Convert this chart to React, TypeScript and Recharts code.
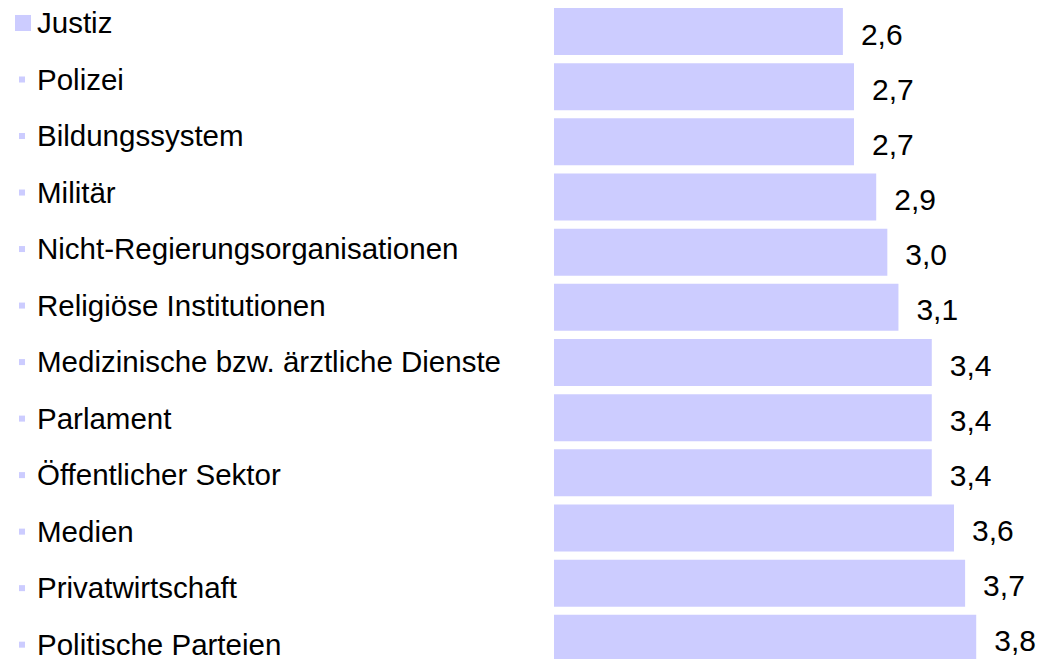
import { BarChart, Bar, XAxis, YAxis, LabelList } from "recharts";

const categories = [
  "Justiz",
  "Polizei",
  "Bildungssystem",
  "Militär",
  "Nicht-Regierungsorganisationen",
  "Religiöse Institutionen",
  "Medizinische bzw. ärztliche Dienste",
  "Parlament",
  "Öffentlicher Sektor",
  "Medien",
  "Privatwirtschaft",
  "Politische Parteien",
];

const values = [2.6, 2.7, 2.7, 2.9, 3.0, 3.1, 3.4, 3.4, 3.4, 3.6, 3.7, 3.8];

const data = categories.map((name, i) => ({ name, value: values[i] }));

const FONT = "'Liberation Sans', Arial, sans-serif";
const BAR_COLOR = "#ccccff";

// bullet + label, drawn from the left edge like a slide list.
// the list lines run a little wider than the bars, so the baseline drifts down per row
function BulletTick(props: any) {
  const { y, payload, index } = props;
  const big = index === 0;
  const base = y + 1.4 + 1.35 * index;
  return (
    <g>
      {big ? (
        <rect x={15} y={base - 18} width={16} height={16} fill={BAR_COLOR} />
      ) : (
        <rect x={19} y={base - 13} width={6} height={6} fill={BAR_COLOR} />
      )}
      <text
        x={37}
        y={base}
        textAnchor="start"
        fontFamily={FONT}
        fontSize={29.5}
        fill="#000"
      >
        {payload.value}
      </text>
    </g>
  );
}

export default function App() {
  return (
    <div
      style={{
        position: "fixed",
        top: 0,
        left: 0,
        width: 1054,
        height: 659,
        overflow: "hidden",
        background: "#fff",
      }}
    >
      <BarChart
        width={1054}
        height={670}
        data={data}
        layout="vertical"
        margin={{ top: 4, right: 0, bottom: 4, left: 0 }}
        barCategoryGap={4}
      >
        <XAxis type="number" domain={[0, 4.5]} hide />
        <YAxis
          type="category"
          dataKey="name"
          width={554}
          axisLine={false}
          tickLine={false}
          interval={0}
          tick={<BulletTick />}
        />
        <Bar dataKey="value" fill={BAR_COLOR} isAnimationActive={false}>
          <LabelList
            dataKey="value"
            position="right"
            offset={18}
            formatter={(v: any) => Number(v).toFixed(1).replace(".", ",")}
            style={{ fontFamily: FONT, fontSize: 30, fill: "#000" }}
            dy={2.5}
          />
        </Bar>
      </BarChart>
    </div>
  );
}
